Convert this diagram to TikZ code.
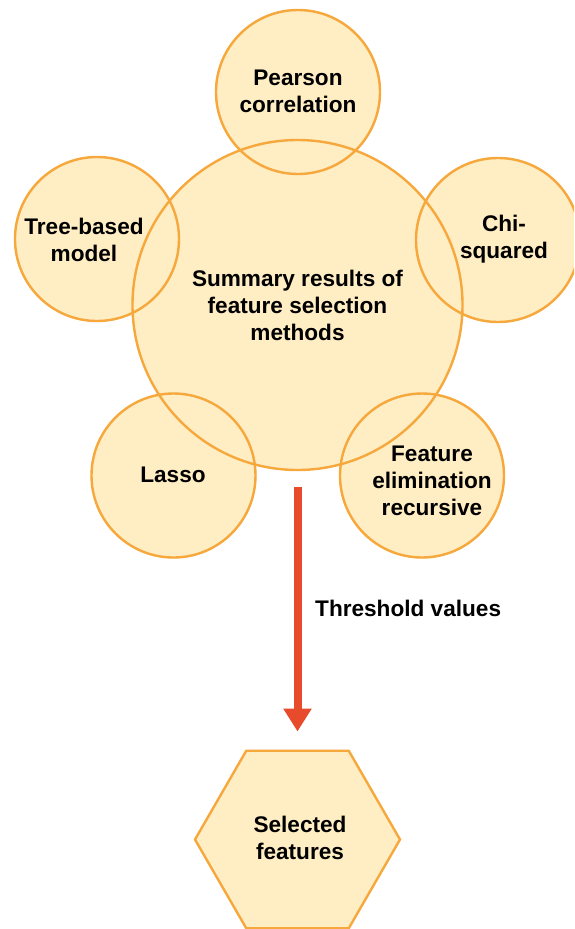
\documentclass[tikz,border=0pt]{standalone}
\usepackage{fontspec}
\setmainfont{Liberation Sans}
\usetikzlibrary{shapes.geometric,arrows.meta}
\definecolor{cfill}{HTML}{FFEDC4}
\definecolor{cline}{HTML}{F6A83C}
\definecolor{carrow}{HTML}{E84B2C}
\begin{document}
\begin{tikzpicture}[x=1pt,y=-1pt,
  txt/.style={font=\fontsize{22.6}{27}\selectfont\bfseries, align=center, text=black, inner sep=0pt},
  disc/.style={circle, fill=cfill, draw=none, inner sep=0pt, minimum size=#1},
  ring/.style={draw=cline, line width=2.4pt}]
\useasboundingbox (0,0) rectangle (574,929);
\clip (0,0) rectangle (574,929);
% fills
\node[disc=330pt] (big) at (297.5,305) {};
\node[disc=166pt] (pearson) at (298,92) {};
\node[disc=166pt] (chi) at (498,240) {};
\node[disc=166pt] (tree) at (97,239) {};
\node[disc=166pt] (lasso) at (173.5,475.5) {};
\node[disc=166pt] (fer) at (422,475.5) {};
% outlines
\draw[ring] (big.center) circle[radius=165pt];
\draw[ring] (pearson.center) circle[radius=82pt];
\draw[ring] (chi.center) circle[radius=82pt];
\draw[ring] (tree.center) circle[radius=82pt];
\draw[ring] (lasso.center) circle[radius=82pt];
\draw[ring] (fer.center) circle[radius=82pt];
% texts
\node[txt] (tbig) at (297.5,305) {Summary results of\\feature selection\\methods};
\node[txt] (tpearson) at (298,91) {Pearson\\correlation};
\node[txt] (tchi) at (504,239) {Chi-\\squared};
\node[txt] (ttree) at (84,240) {Tree-based\\model};
\node[txt] (tlasso) at (173,475) {Lasso};
\node[txt] (tfer) at (432,481) {Feature\\elimination\\recursive};
% hexagon
\node[regular polygon, regular polygon sides=6, minimum size=205pt, inner sep=0pt,
      fill=cfill, draw=cline, line width=2.4pt] (hex) at (297.5,839.5) {};
\node[txt] (thex) at (300,838) {Selected\\features};
% arrow
\draw[carrow, line width=8pt, shorten <=17pt, shorten >=18pt,
      -{Triangle[width=27pt,length=23pt]}] (big.south) -- (hex.north);
\node[txt, anchor=west] (thr) at (315,608) {Threshold values};
\end{tikzpicture}
\end{document}
